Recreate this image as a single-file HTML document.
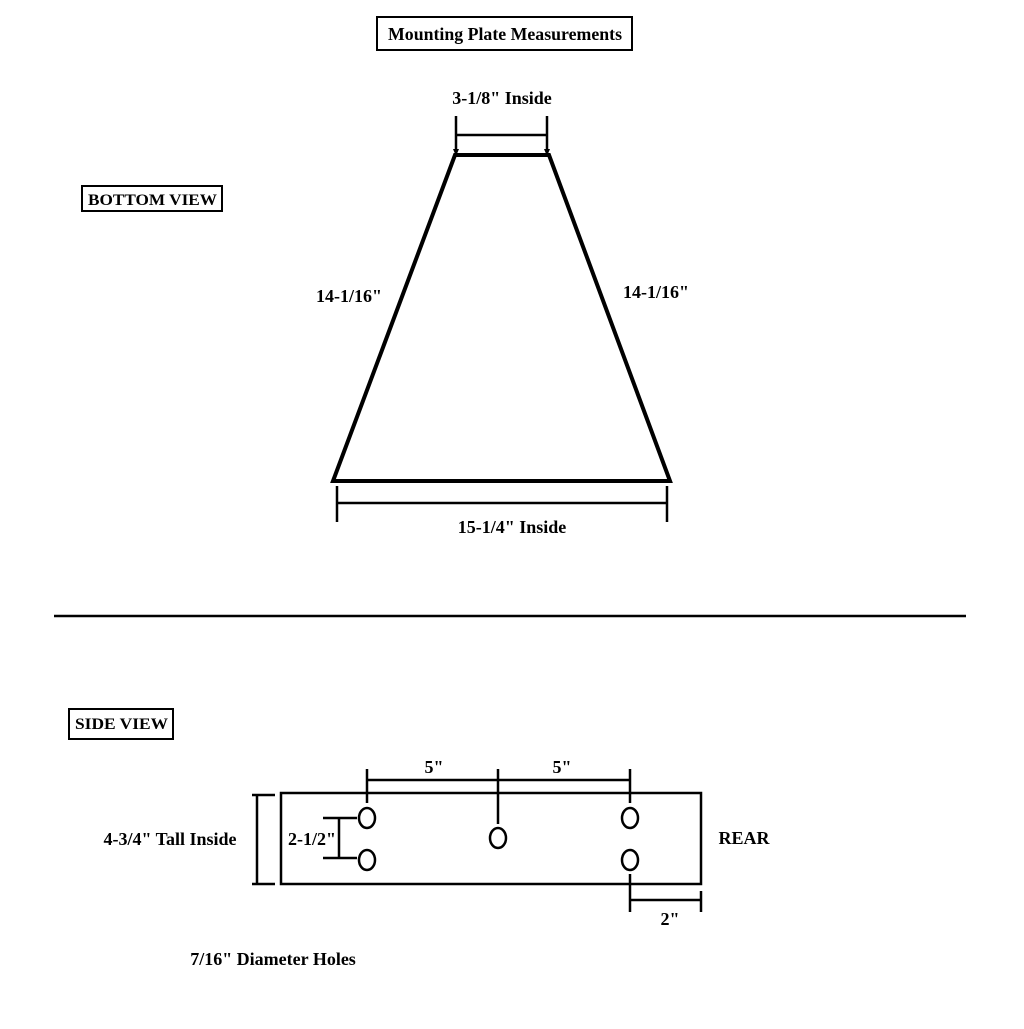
<!DOCTYPE html>
<html><head><style>
html,body{margin:0;padding:0;background:#fff;}
svg text{font-family:"Liberation Serif",serif;font-weight:bold;font-size:18px;fill:#000;}
</style></head><body>
<svg width="1024" height="1024" viewBox="0 0 1024 1024" xmlns="http://www.w3.org/2000/svg">
<g fill="none" stroke="#000" stroke-width="2.5">
<rect x="377" y="17" width="255" height="33" stroke-width="2"/>
<rect x="82" y="186" width="140" height="25" stroke-width="2"/>
<rect x="69" y="709" width="104" height="30" stroke-width="2"/>
<polygon points="455,155 549,155 670,481 333,481" stroke-width="4"/>
<line x1="456" y1="116" x2="456" y2="150"/>
<line x1="547" y1="116" x2="547" y2="150"/>
<line x1="456" y1="135" x2="547" y2="135"/>
<line x1="337" y1="486" x2="337" y2="522"/>
<line x1="667" y1="486" x2="667" y2="522"/>
<line x1="337" y1="503" x2="667" y2="503"/>
<line x1="54" y1="616" x2="966" y2="616"/>
<rect x="281" y="793" width="420" height="91"/>
<line x1="252" y1="795" x2="275" y2="795"/>
<line x1="252" y1="884" x2="275" y2="884"/>
<line x1="257" y1="795" x2="257" y2="884"/>
<line x1="367" y1="769" x2="367" y2="803"/>
<line x1="498" y1="769" x2="498" y2="824"/>
<line x1="630" y1="769" x2="630" y2="803"/>
<line x1="367" y1="780" x2="630" y2="780"/>
<line x1="323" y1="818" x2="357" y2="818"/>
<line x1="323" y1="858" x2="357" y2="858"/>
<line x1="339" y1="818" x2="339" y2="858"/>
<ellipse cx="367" cy="818" rx="8" ry="10"/>
<ellipse cx="367" cy="860" rx="8" ry="10"/>
<ellipse cx="498" cy="838" rx="8" ry="10"/>
<ellipse cx="630" cy="818" rx="8" ry="10"/>
<ellipse cx="630" cy="860" rx="8" ry="10"/>
<line x1="630" y1="874" x2="630" y2="912"/>
<line x1="701" y1="891" x2="701" y2="912"/>
<line x1="630" y1="900" x2="701" y2="900"/>
</g>
<polygon points="453,149 459,149 456,156" fill="#000"/>
<polygon points="544,149 550,149 547,156" fill="#000"/>
<text x="388" y="40" textLength="234" lengthAdjust="spacingAndGlyphs">Mounting Plate Measurements</text>
<text x="88" y="205" style="font-size:16px" textLength="129" lengthAdjust="spacingAndGlyphs">BOTTOM VIEW</text>
<text x="502" y="104" text-anchor="middle">3-1/8" Inside</text>
<text x="349" y="302" text-anchor="middle">14-1/16"</text>
<text x="656" y="298" text-anchor="middle">14-1/16"</text>
<text x="512" y="533" text-anchor="middle">15-1/4" Inside</text>
<text x="75" y="729" style="font-size:16px" textLength="93" lengthAdjust="spacingAndGlyphs">SIDE VIEW</text>
<text x="434" y="773" text-anchor="middle">5"</text>
<text x="562" y="773" text-anchor="middle">5"</text>
<text x="170" y="845" text-anchor="middle">4-3/4" Tall Inside</text>
<text x="312" y="845" text-anchor="middle">2-1/2"</text>
<text x="744" y="844" text-anchor="middle">REAR</text>
<text x="670" y="925" text-anchor="middle">2"</text>
<text x="273" y="965" text-anchor="middle">7/16" Diameter Holes</text>
</svg>
</body></html>
